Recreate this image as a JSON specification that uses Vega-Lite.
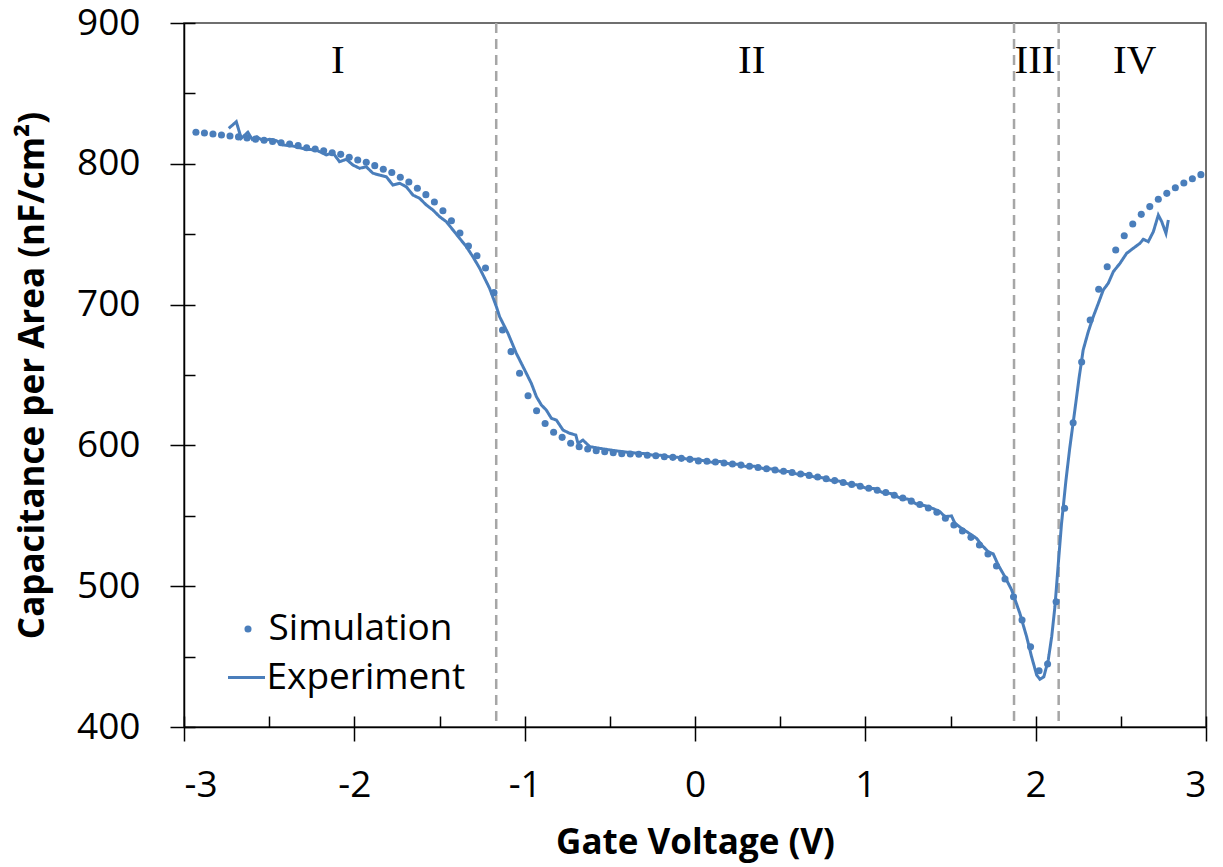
{
  "$schema": "https://vega.github.io/schema/vega-lite/v6.json",
  "width": 1022,
  "height": 704,
  "autosize": {"type": "none"},
  "padding": {"left": 184, "top": 23, "right": 17, "bottom": 140},
  "background": "white",
  "config": {"view": {"stroke": "#404040", "strokeWidth": 1.5}, "font": "Open Sans"},
  "datasets": {
    "dividers": [{"V": -1.167}, {"V": 1.873}, {"V": 2.135}],
    "regions": [
      {"V": -2.097, "C": 864.3, "label": "I"},
      {"V": 0.333, "C": 864.3, "label": "II"},
      {"V": 1.996, "C": 864.3, "label": "III"},
      {"V": 2.581, "C": 864.3, "label": "IV"}
    ],
    "sim": [
      {"V": -2.93, "C": 822.4}, {"V": -2.88, "C": 821.9}, {"V": -2.83, "C": 821.2}, {"V": -2.78, "C": 820.5},
      {"V": -2.73, "C": 819.8}, {"V": -2.68, "C": 819.1}, {"V": -2.63, "C": 818.3}, {"V": -2.58, "C": 817.5},
      {"V": -2.53, "C": 816.7}, {"V": -2.48, "C": 815.8}, {"V": -2.43, "C": 814.9}, {"V": -2.38, "C": 814.1},
      {"V": -2.33, "C": 812.9}, {"V": -2.28, "C": 811.4}, {"V": -2.23, "C": 810.5}, {"V": -2.18, "C": 809.3},
      {"V": -2.13, "C": 807.9}, {"V": -2.08, "C": 806.7}, {"V": -2.03, "C": 804.6}, {"V": -1.98, "C": 802.7},
      {"V": -1.93, "C": 801.1}, {"V": -1.88, "C": 798.7}, {"V": -1.83, "C": 796.1}, {"V": -1.78, "C": 793.8},
      {"V": -1.73, "C": 790.4}, {"V": -1.68, "C": 787.1}, {"V": -1.63, "C": 782.6}, {"V": -1.58, "C": 778.1},
      {"V": -1.53, "C": 772.9}, {"V": -1.48, "C": 766.7}, {"V": -1.43, "C": 759.6}, {"V": -1.38, "C": 750.9},
      {"V": -1.33, "C": 741.6}, {"V": -1.28, "C": 734.7}, {"V": -1.23, "C": 726.0}, {"V": -1.18, "C": 708.5},
      {"V": -1.13, "C": 682.0}, {"V": -1.08, "C": 666.6}, {"V": -1.03, "C": 651.2}, {"V": -0.98, "C": 635.3},
      {"V": -0.93, "C": 624.6}, {"V": -0.88, "C": 615.5}, {"V": -0.83, "C": 609.3}, {"V": -0.78, "C": 605.7},
      {"V": -0.73, "C": 601.5}, {"V": -0.68, "C": 599.1}, {"V": -0.63, "C": 597.4}, {"V": -0.58, "C": 596.2},
      {"V": -0.53, "C": 595.5}, {"V": -0.48, "C": 594.8}, {"V": -0.43, "C": 594.1}, {"V": -0.38, "C": 593.9},
      {"V": -0.33, "C": 593.7}, {"V": -0.28, "C": 593.0}, {"V": -0.23, "C": 592.7}, {"V": -0.18, "C": 592.0},
      {"V": -0.13, "C": 591.5}, {"V": -0.08, "C": 590.8}, {"V": -0.03, "C": 590.1}, {"V": 0.02, "C": 589.0},
      {"V": 0.07, "C": 588.8}, {"V": 0.12, "C": 588.2}, {"V": 0.17, "C": 587.5}, {"V": 0.22, "C": 586.8},
      {"V": 0.27, "C": 586.0}, {"V": 0.32, "C": 585.2}, {"V": 0.37, "C": 584.3}, {"V": 0.42, "C": 583.4},
      {"V": 0.47, "C": 582.5}, {"V": 0.52, "C": 581.6}, {"V": 0.57, "C": 580.7}, {"V": 0.62, "C": 579.7},
      {"V": 0.67, "C": 578.7}, {"V": 0.72, "C": 577.6}, {"V": 0.77, "C": 576.3}, {"V": 0.82, "C": 575.0},
      {"V": 0.87, "C": 573.6}, {"V": 0.92, "C": 572.3}, {"V": 0.97, "C": 571.0}, {"V": 1.02, "C": 569.6},
      {"V": 1.07, "C": 568.2}, {"V": 1.12, "C": 566.5}, {"V": 1.17, "C": 564.6}, {"V": 1.22, "C": 562.6},
      {"V": 1.27, "C": 560.4}, {"V": 1.32, "C": 558.0}, {"V": 1.37, "C": 555.5}, {"V": 1.42, "C": 552.5},
      {"V": 1.47, "C": 548.2}, {"V": 1.52, "C": 543.5}, {"V": 1.57, "C": 539.2}, {"V": 1.62, "C": 534.7},
      {"V": 1.67, "C": 529.3}, {"V": 1.72, "C": 522.9}, {"V": 1.77, "C": 514.4}, {"V": 1.82, "C": 505.1},
      {"V": 1.87, "C": 492.5}, {"V": 1.92, "C": 476.0}, {"V": 1.97, "C": 457.0}, {"V": 2.02, "C": 440.0},
      {"V": 2.07, "C": 444.7}, {"V": 2.12, "C": 489.0}, {"V": 2.17, "C": 555.3}, {"V": 2.22, "C": 616.0},
      {"V": 2.27, "C": 659.2}, {"V": 2.32, "C": 689.1}, {"V": 2.37, "C": 710.9}, {"V": 2.42, "C": 726.9},
      {"V": 2.47, "C": 738.8}, {"V": 2.52, "C": 748.9}, {"V": 2.57, "C": 757.2}, {"V": 2.62, "C": 764.1},
      {"V": 2.67, "C": 769.6}, {"V": 2.72, "C": 774.8}, {"V": 2.77, "C": 779.0}, {"V": 2.82, "C": 783.0},
      {"V": 2.87, "C": 786.4}, {"V": 2.92, "C": 789.4}, {"V": 2.97, "C": 792.3}
    ],
    "exp": [
      {"V": -2.737, "C": 825.2}, {"V": -2.693, "C": 829.9}, {"V": -2.664, "C": 818.1}, {"V": -2.625, "C": 822.4},
      {"V": -2.600, "C": 817.4}, {"V": -2.572, "C": 819.2}, {"V": -2.537, "C": 816.4}, {"V": -2.498, "C": 817.4},
      {"V": -2.458, "C": 816.4}, {"V": -2.420, "C": 813.4}, {"V": -2.361, "C": 812.6}, {"V": -2.282, "C": 810.3},
      {"V": -2.224, "C": 809.8}, {"V": -2.165, "C": 806.3}, {"V": -2.126, "C": 807.9}, {"V": -2.087, "C": 801.5},
      {"V": -2.047, "C": 803.2}, {"V": -2.008, "C": 799.1}, {"V": -1.969, "C": 796.8}, {"V": -1.930, "C": 797.9},
      {"V": -1.891, "C": 793.3}, {"V": -1.852, "C": 792.0}, {"V": -1.812, "C": 790.8}, {"V": -1.774, "C": 784.9},
      {"V": -1.734, "C": 786.2}, {"V": -1.695, "C": 783.7}, {"V": -1.656, "C": 777.8}, {"V": -1.617, "C": 775.5},
      {"V": -1.577, "C": 770.7}, {"V": -1.539, "C": 767.2}, {"V": -1.499, "C": 762.4}, {"V": -1.460, "C": 758.9},
      {"V": -1.421, "C": 753.0}, {"V": -1.382, "C": 747.1}, {"V": -1.342, "C": 741.1}, {"V": -1.304, "C": 734.0},
      {"V": -1.264, "C": 725.8}, {"V": -1.235, "C": 718.7}, {"V": -1.206, "C": 711.6}, {"V": -1.166, "C": 698.5},
      {"V": -1.147, "C": 691.4}, {"V": -1.098, "C": 679.6}, {"V": -1.049, "C": 665.4}, {"V": -1.000, "C": 653.6},
      {"V": -0.961, "C": 644.1}, {"V": -0.931, "C": 634.6}, {"V": -0.902, "C": 628.7}, {"V": -0.873, "C": 625.1},
      {"V": -0.843, "C": 619.2}, {"V": -0.814, "C": 618.0}, {"V": -0.775, "C": 610.9}, {"V": -0.736, "C": 608.6},
      {"V": -0.700, "C": 607.4}, {"V": -0.687, "C": 601.5}, {"V": -0.658, "C": 603.8}, {"V": -0.618, "C": 599.1},
      {"V": -0.559, "C": 597.9}, {"V": -0.50, "C": 596.8}, {"V": -0.45, "C": 595.9}, {"V": -0.40, "C": 595.2},
      {"V": -0.35, "C": 594.6}, {"V": -0.30, "C": 594.2}, {"V": -0.25, "C": 593.1}, {"V": -0.20, "C": 593.0},
      {"V": -0.15, "C": 591.9}, {"V": -0.10, "C": 591.5}, {"V": -0.05, "C": 590.4}, {"V": 0.00, "C": 590.2},
      {"V": 0.05, "C": 589.2}, {"V": 0.10, "C": 588.0}, {"V": 0.15, "C": 588.6}, {"V": 0.20, "C": 586.9},
      {"V": 0.25, "C": 586.6}, {"V": 0.30, "C": 585.0}, {"V": 0.35, "C": 585.2}, {"V": 0.40, "C": 583.6},
      {"V": 0.45, "C": 583.3}, {"V": 0.50, "C": 581.6}, {"V": 0.55, "C": 581.4}, {"V": 0.60, "C": 579.6},
      {"V": 0.65, "C": 579.4}, {"V": 0.70, "C": 577.6}, {"V": 0.75, "C": 577.0}, {"V": 0.80, "C": 575.0},
      {"V": 0.85, "C": 574.6}, {"V": 0.90, "C": 572.6}, {"V": 0.95, "C": 572.0}, {"V": 1.00, "C": 569.8},
      {"V": 1.05, "C": 569.4}, {"V": 1.10, "C": 566.6}, {"V": 1.15, "C": 565.8}, {"V": 1.20, "C": 562.9},
      {"V": 1.25, "C": 561.8}, {"V": 1.30, "C": 558.4}, {"V": 1.35, "C": 557.2}, {"V": 1.40, "C": 555.0},
      {"V": 1.438, "C": 552.9}, {"V": 1.467, "C": 549.4}, {"V": 1.506, "C": 549.9}, {"V": 1.526, "C": 544.7},
      {"V": 1.565, "C": 541.1}, {"V": 1.604, "C": 538.0}, {"V": 1.653, "C": 534.0}, {"V": 1.683, "C": 529.3},
      {"V": 1.721, "C": 524.5}, {"V": 1.751, "C": 522.9}, {"V": 1.780, "C": 515.1}, {"V": 1.819, "C": 506.8},
      {"V": 1.859, "C": 497.3}, {"V": 1.907, "C": 480.8}, {"V": 1.947, "C": 464.1}, {"V": 1.976, "C": 449.9},
      {"V": 2.006, "C": 436.9}, {"V": 2.025, "C": 433.9}, {"V": 2.048, "C": 435.7}, {"V": 2.074, "C": 447.6},
      {"V": 2.094, "C": 464.1}, {"V": 2.113, "C": 485.4}, {"V": 2.133, "C": 516.3}, {"V": 2.152, "C": 544.7},
      {"V": 2.178, "C": 575.4}, {"V": 2.200, "C": 598.0}, {"V": 2.230, "C": 625.0}, {"V": 2.255, "C": 648.0},
      {"V": 2.279, "C": 667.8}, {"V": 2.309, "C": 680.8}, {"V": 2.338, "C": 691.4}, {"V": 2.368, "C": 700.9},
      {"V": 2.397, "C": 710.4}, {"V": 2.426, "C": 715.1}, {"V": 2.456, "C": 723.4}, {"V": 2.495, "C": 729.3},
      {"V": 2.534, "C": 736.4}, {"V": 2.573, "C": 740.0}, {"V": 2.612, "C": 743.5}, {"V": 2.632, "C": 746.4},
      {"V": 2.661, "C": 744.7}, {"V": 2.691, "C": 751.8}, {"V": 2.720, "C": 763.6}, {"V": 2.740, "C": 758.9},
      {"V": 2.765, "C": 750.6}, {"V": 2.779, "C": 760.1}
    ]
  },
  "layer": [
    {
      "data": {"name": "dividers"},
      "mark": {"type": "rule", "color": "#A6A6A6", "strokeWidth": 2.5, "strokeDash": [10, 6]},
      "encoding": {
        "x": {
          "field": "V", "type": "quantitative",
          "scale": {"domain": [-3, 3], "nice": false, "zero": false},
          "axis": {"orient": "bottom", "values": [-3, -2.5, -2, -1.5, -1, -0.5, 0, 0.5, 1, 1.5, 2, 2.5, 3],
                   "tickSize": -11, "labels": false, "domain": false, "title": null, "grid": false,
                   "ticks": true, "tickColor": "#000000", "tickWidth": 1.5}
        }
      }
    },
    {
      "data": {"name": "regions"},
      "mark": {"type": "text", "font": "Liberation Serif", "fontSize": 41, "baseline": "alphabetic", "align": "center", "color": "#000000"},
      "encoding": {
        "x": {"field": "V", "type": "quantitative", "axis": null},
        "y": {
          "field": "C", "type": "quantitative",
          "scale": {"domain": [400, 900], "nice": false, "zero": false},
          "axis": {"orient": "left", "values": [400, 450, 500, 550, 600, 650, 700, 750, 800, 850, 900],
                   "tickSize": -11, "labels": false, "domain": false, "title": null, "grid": false,
                   "ticks": true, "tickColor": "#000000", "tickWidth": 1.5}
        },
        "text": {"field": "label"}
      }
    },
    {
      "data": {"name": "sim"},
      "mark": {"type": "point", "filled": true, "size": 50, "opacity": 1, "color": "#4A7EBB"},
      "encoding": {
        "x": {
          "field": "V", "type": "quantitative",
          "axis": {"orient": "bottom", "values": [-3, -2, -1, 0, 1, 2, 3], "tickSize": 14, "tickWidth": 1.5,
                   "tickColor": "#000000", "domainColor": "#000000", "domainWidth": 1.5, "grid": false,
                   "labelExpr": "'' + datum.value", "labelFont": "Open Sans", "labelFontSize": 37,
                   "labelColor": "#000000", "labelPadding": 26,
                   "title": "Gate Voltage (V)", "titleFont": "Open Sans", "titleFontSize": 35, "titleFontWeight": "bold",
                   "titleColor": "#000000", "titleX": 511, "titleY": 115, "titleAlign": "center", "titleBaseline": "middle"}
        },
        "y": {
          "field": "C", "type": "quantitative",
          "axis": {"orient": "left", "values": [400, 500, 600, 700, 800, 900], "tickSize": 14, "tickWidth": 1.5,
                   "tickColor": "#000000", "domainColor": "#000000", "domainWidth": 1.5, "grid": false,
                   "labelFont": "Open Sans", "labelFontSize": 37, "labelColor": "#000000", "labelPadding": 30,
                   "title": "Capacitance per Area (nF/cm²)", "titleFont": "Open Sans", "titleFontSize": 35,
                   "titleFontWeight": "bold", "titleColor": "#000000", "titleAngle": -90,
                   "titleX": -152, "titleY": 352, "titleAlign": "center", "titleBaseline": "middle"}
        },
        "shape": {
          "datum": "Simulation",
          "scale": {"domain": ["Simulation"], "range": ["circle"]},
          "legend": {
            "orient": "none", "legendX": 45.5, "legendY": 587.5, "title": null, "padding": 0,
            "labelFont": "Open Sans", "labelFontSize": 37, "labelColor": "#000000", "labelOffset": 2,
            "labelLimit": 500, "symbolSize": 50, "symbolType": "circle",
            "symbolFillColor": "#4A7EBB", "symbolStrokeColor": "#4A7EBB", "symbolStrokeWidth": 0, "symbolOpacity": 1
          }
        }
      }
    },
    {
      "data": {"name": "exp"},
      "mark": {"type": "line", "strokeWidth": 3, "color": "#4A7EBB"},
      "encoding": {
        "x": {"field": "V", "type": "quantitative", "axis": null},
        "y": {"field": "C", "type": "quantitative", "axis": null},
        "strokeDash": {
          "datum": "Experiment",
          "scale": {"domain": ["Experiment"], "range": [[1, 0]]},
          "legend": {
            "orient": "none", "legendX": 42.5, "legendY": 634.5, "title": null, "padding": 0,
            "labelFont": "Open Sans", "labelFontSize": 37, "labelColor": "#000000", "labelOffset": 0,
            "labelLimit": 500, "symbolSize": 1369, "symbolType": "stroke",
            "symbolStrokeColor": "#4A7EBB", "symbolStrokeWidth": 3, "symbolOpacity": 1
          }
        }
      }
    }
  ],
  "resolve": {"axis": {"x": "independent", "y": "independent"}}
}
